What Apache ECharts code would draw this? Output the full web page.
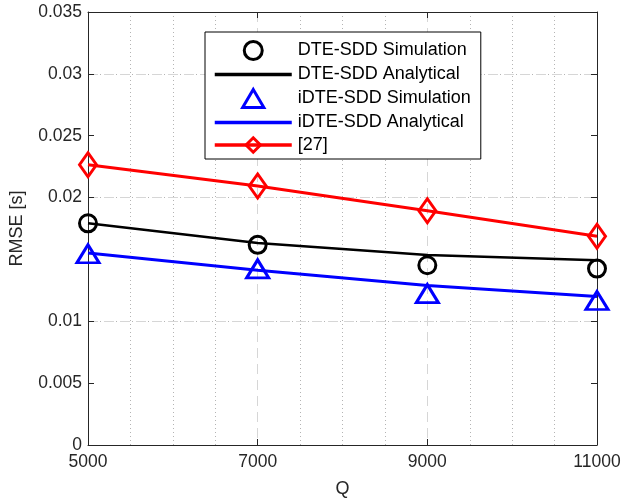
<!DOCTYPE html>
<html>
<head>
<meta charset="utf-8">
<script src="https://cdn.jsdelivr.net/npm/echarts@6/dist/echarts.min.js"></script>
<style>
  html, body { margin: 0; padding: 0; background: #fff; }
  #chart { width: 636px; height: 503px; }
</style>
</head>
<body>
<div id="chart"></div>
<script>
// x values (Q)
var qValues = [5000, 7000, 9000, 11000];

// RMSE values
var dteSim  = [0.01792, 0.01618, 0.01453, 0.01426];
var dteAna  = [0.01792, 0.01632, 0.01535, 0.01493];
var idteSim = [0.01546, 0.01424, 0.01224, 0.01168];
var idteAna = [0.01552, 0.01413, 0.01290, 0.01200];
var ref27   = [0.02266, 0.02093, 0.01893, 0.01688];

// tick values (0.015 has no tick in the original)
var yMajorTicks = [0, 0.005, 0.01, 0.02, 0.025, 0.03, 0.035];
var yMinorTicks = [0.001, 0.002, 0.003, 0.004, 0.006, 0.007, 0.008, 0.009,
                   0.012, 0.014, 0.016, 0.018,
                   0.021, 0.022, 0.023, 0.024, 0.026, 0.027, 0.028, 0.029,
                   0.031, 0.032, 0.033, 0.034];

function pairs(ys) {
  return qValues.map(function (q, i) { return [q, ys[i]]; });
}

var axisColor = '#262626';
var font = 'Liberation Sans, Arial, sans-serif';
var clear = 'rgba(0,0,0,0)';
var minorStyle = { color: '#b4b4b4', type: [1, 3], width: 1 };
var majorStyle = { color: '#d6d6d6', type: [10, 6], width: 1 };

var chart = echarts.init(document.getElementById('chart'));

function gridLines(values, style) {
  return values.filter(function (v) { return v > 0 && v < 0.035; })
    .map(function (v) { return { yAxis: v, lineStyle: style }; });
}

var option = {
  animation: false,
  backgroundColor: '#fff',
  grid: { left: 88, right: 39, top: 12, bottom: 53, containLabel: false },
  legend: {
    orient: 'vertical',
    left: 205,
    top: 32,
    z: 10,
    backgroundColor: '#fff',
    borderColor: '#000',
    borderWidth: 1,
    borderRadius: 0,
    padding: [8, 10, 5, 8],
    itemWidth: 77,
    itemHeight: 18,
    itemGap: 4.5,
    textStyle: { fontFamily: font, fontSize: 18, color: '#000', lineHeight: 18, padding: [0, 0, 0, 1] },
    data: [
      { name: 'DTE-SDD Simulation', itemStyle: { borderWidth: 3 } },
      { name: 'DTE-SDD Analytical', lineStyle: { width: 3.5 } },
      { name: 'iDTE-SDD Simulation', icon: 'path://M10,0L20,17L0,17Z', itemStyle: { borderWidth: 3 } },
      { name: 'iDTE-SDD Analytical', lineStyle: { width: 3.5 } },
      { name: '[27]', itemStyle: { borderWidth: 3 }, lineStyle: { width: 3.5 } }
    ]
  },
  xAxis: [{
    type: 'value',
    position: 'bottom',
    min: 5000,
    max: 11000,
    interval: 2000,
    name: 'Q',
    nameLocation: 'middle',
    nameGap: 35,
    nameTextStyle: { fontFamily: font, fontSize: 18, color: axisColor },
    axisLine: { show: true, onZero: false, lineStyle: { color: axisColor, width: 1 } },
    axisTick: { show: true, inside: true, length: 6, lineStyle: { color: axisColor } },
    axisLabel: { fontFamily: font, fontSize: 17.5, color: axisColor, margin: 8, formatter: function (v) { return String(v); } },
    splitLine: { show: true, lineStyle: majorStyle },
    minorTick: { show: false, splitNumber: 4 },
    minorSplitLine: { show: true, lineStyle: minorStyle }
  }, {
    type: 'value',
    position: 'top',
    min: 5000,
    max: 11000,
    interval: 2000,
    axisLine: { show: true, onZero: false, lineStyle: { color: axisColor, width: 1 } },
    axisTick: { show: true, inside: true, length: 6, lineStyle: { color: axisColor } },
    axisLabel: { show: false },
    splitLine: { show: false }
  }],
  yAxis: [{
    type: 'value',
    position: 'left',
    min: 0,
    max: 0.035,
    interval: 0.005,
    name: 'RMSE [s]',
    nameLocation: 'middle',
    nameGap: 62,
    nameTextStyle: { fontFamily: font, fontSize: 18, color: axisColor },
    axisLine: { show: true, onZero: false, lineStyle: { color: axisColor, width: 1 } },
    axisTick: { show: true, inside: true, length: 6, customValues: yMajorTicks, lineStyle: { color: axisColor } },
    axisLabel: {
      fontFamily: font, fontSize: 17.5, color: axisColor, margin: 6,
      customValues: yMajorTicks,
      formatter: function (v) { return v === 0 ? '0' : String(+v.toFixed(3)); }
    },
    splitLine: { show: false }
  }, {
    type: 'value',
    position: 'right',
    min: 0,
    max: 0.035,
    interval: 0.005,
    axisLine: { show: true, onZero: false, lineStyle: { color: axisColor, width: 1 } },
    axisTick: { show: true, inside: true, length: 6, customValues: yMajorTicks, lineStyle: { color: axisColor } },
    axisLabel: { show: false },
    splitLine: { show: false }
  }],
  series: [{
    // horizontal grid: dashed at the major ticks, dotted at the minor ones
    name: 'ygrid',
    type: 'line',
    data: [],
    z: 0,
    markLine: {
      silent: true,
      z: 0,
      symbol: ['none', 'none'],
      label: { show: false },
      animation: false,
      data: gridLines(yMinorTicks, minorStyle).concat(gridLines(yMajorTicks, majorStyle))
    }
  }, {
    name: 'DTE-SDD Analytical',
    type: 'line',
    data: pairs(dteAna),
    symbol: 'none',
    lineStyle: { color: '#000', width: 2.5 },
    itemStyle: { color: clear, borderColor: clear, borderWidth: 0 },
    z: 2
  }, {
    name: 'iDTE-SDD Analytical',
    type: 'line',
    data: pairs(idteAna),
    symbol: 'none',
    lineStyle: { color: '#0000ff', width: 3 },
    itemStyle: { color: clear, borderColor: clear, borderWidth: 0 },
    z: 2
  }, {
    name: '[27]',
    type: 'line',
    data: pairs(ref27),
    symbol: 'diamond',
    symbolSize: [17, 24],
    showAllSymbol: true,
    lineStyle: { color: '#ff0000', width: 3 },
    itemStyle: { color: clear, borderColor: '#ff0000', borderWidth: 3 },
    z: 3
  }, {
    name: 'DTE-SDD Simulation',
    type: 'scatter',
    data: pairs(dteSim),
    symbol: 'circle',
    symbolSize: 17,
    itemStyle: { color: clear, borderColor: '#000', borderWidth: 3, opacity: 1 },
    z: 4
  }, {
    name: 'iDTE-SDD Simulation',
    type: 'scatter',
    data: pairs(idteSim),
    symbol: 'triangle',
    symbolSize: [22, 18],
    itemStyle: { color: clear, borderColor: '#0000ff', borderWidth: 3, opacity: 1 },
    z: 4
  }]
};

chart.setOption(option);
</script>
</body>
</html>
